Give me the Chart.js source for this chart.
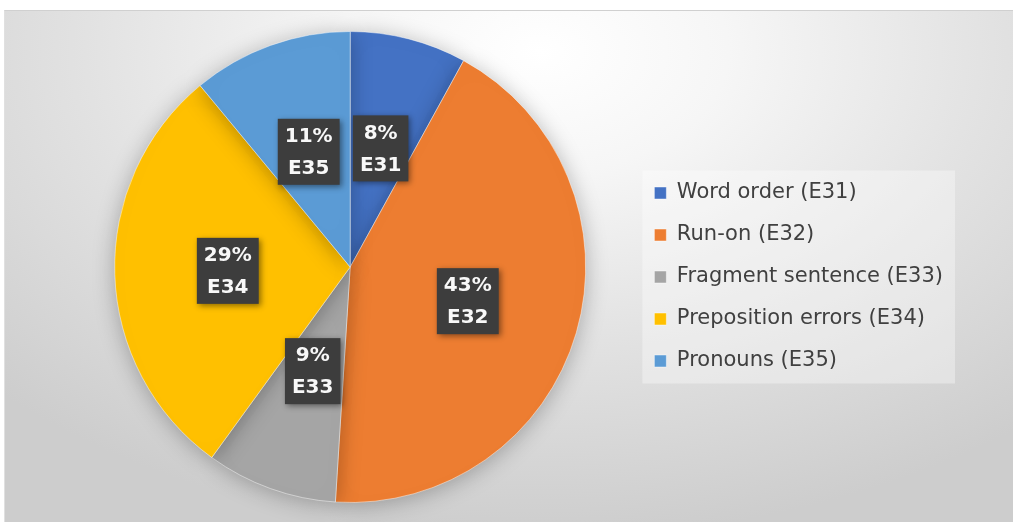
<!DOCTYPE html>
<html><head><meta charset="utf-8">
<script src="https://cdn.jsdelivr.net/npm/chart.js@4/dist/chart.umd.min.js"></script>
<style>
html,body{margin:0;padding:0;background:#fff;}
#wrap{position:relative;width:1015px;height:522px;}
#bg{position:absolute;left:4px;top:10px;width:1008px;height:512px;
background:radial-gradient(ellipse 75% 95% at 53% 8%, #ffffff 0%, #f6f6f6 25%, #e2e2e2 60%, #cdcdcd 100%);
border-top:1px solid #d0d0d0;border-left:1px solid #e0e0e0;}
canvas{position:absolute;left:0;top:0;}
</style></head>
<body><div id="wrap"><div id="bg"></div><canvas id="c" width="1015" height="522"></canvas></div>
<script>
const categories = ["Word order (E31)", "Run-on (E32)", "Fragment sentence (E33)", "Preposition errors (E34)", "Pronouns (E35)"];
const codes = ["E31", "E32", "E33", "E34", "E35"];
const values = [8, 43, 9, 29, 11];
const colors = ["#4472C4", "#ED7D31", "#A5A5A5", "#FFC000", "#5B9BD5"];

const legendShiftPlugin = {
  id: 'legendShift',
  afterLayout(chart) {
    const l = chart.legend;
    if (!l) return;
    const dy = 10;
    l.top += dy;
    l.bottom += dy;
    if (l.legendHitBoxes) l.legendHitBoxes.forEach(b => { b.top += dy; });
  }
};

const shadowPlugin = {
  id: 'shadow',
  beforeDatasetsDraw(chart) {
    const ctx = chart.ctx;
    ctx.save();
    ctx.shadowColor = 'rgba(0,0,0,0.28)';
    ctx.shadowBlur = 22;
    ctx.shadowOffsetY = 3;
  },
  afterDatasetsDraw(chart) {
    chart.ctx.restore();
  }
};

const legendBgPlugin = {
  id: 'legendBg',
  beforeDraw(chart) {
    const l = chart.legend;
    if (!l || !l.legendHitBoxes || !l.legendHitBoxes.length) return;
    const hb = l.legendHitBoxes;
    let left = Infinity, right = -Infinity;
    hb.forEach(b => { left = Math.min(left, b.left); right = Math.max(right, b.left + b.width); });
    const top = hb[0].top - 12;
    const bottom = hb[hb.length - 1].top + hb[hb.length - 1].height + 12;
    const ctx = chart.ctx;
    ctx.save();
    ctx.fillStyle = 'rgba(255,255,255,0.35)';
    ctx.fillRect(left - 12, top, right - left + 24, bottom - top);
    ctx.restore();
  }
};

const labelPlugin = {
  id: 'boxLabels',
  afterDatasetsDraw(chart) {
    const ctx = chart.ctx;
    const meta = chart.getDatasetMeta(0);
    meta.data.forEach((arc, i) => {
      const p = arc.getProps(['x','y','startAngle','endAngle','outerRadius']);
      const mid = (p.startAngle + p.endAngle) / 2;
      const r = p.outerRadius * (i === 2 ? 0.47 : 0.52);
      const cx = p.x + Math.cos(mid) * r;
      const cy = p.y + Math.sin(mid) * r;
      const t1 = values[i] + '%';
      const t2 = codes[i];
      ctx.save();
      ctx.font = 'bold 20px "DejaVu Sans", sans-serif';
      const w = Math.max(ctx.measureText(t1).width, ctx.measureText(t2).width) + 14;
      const h = 66;
      ctx.shadowColor = 'rgba(0,0,0,0.45)';
      ctx.shadowBlur = 6;
      ctx.shadowOffsetX = 2;
      ctx.shadowOffsetY = 2;
      ctx.fillStyle = '#3d3d3d';
      ctx.fillRect(cx - w/2, cy - h/2, w, h);
      ctx.shadowColor = 'transparent';
      ctx.fillStyle = '#f8f8f8';
      ctx.textAlign = 'center';
      ctx.textBaseline = 'middle';
      ctx.fillText(t1, cx, cy - 15);
      ctx.fillText(t2, cx, cy + 17);
      ctx.restore();
    });
  }
};

new Chart(document.getElementById('c'), {
  type: 'pie',
  data: {
    labels: categories,
    datasets: [{
      data: values,
      backgroundColor: colors,
      borderColor: 'rgba(255,255,255,0.45)',
      borderWidth: 1
    }]
  },
  options: {
    responsive: false,
    animation: false,
    layout: { padding: { left: 67, right: 62, top: 31, bottom: 19 } },
    plugins: {
      tooltip: { enabled: false },
      legend: {
        position: 'right',
        align: 'center',
        labels: {
          boxWidth: 12,
          boxHeight: 12,
          padding: 21,
          color: '#404040',
          font: { size: 21, family: '"DejaVu Sans", sans-serif' }
        }
      }
    }
  },
  plugins: [legendShiftPlugin, legendBgPlugin, shadowPlugin, labelPlugin]
});
</script></body></html>
